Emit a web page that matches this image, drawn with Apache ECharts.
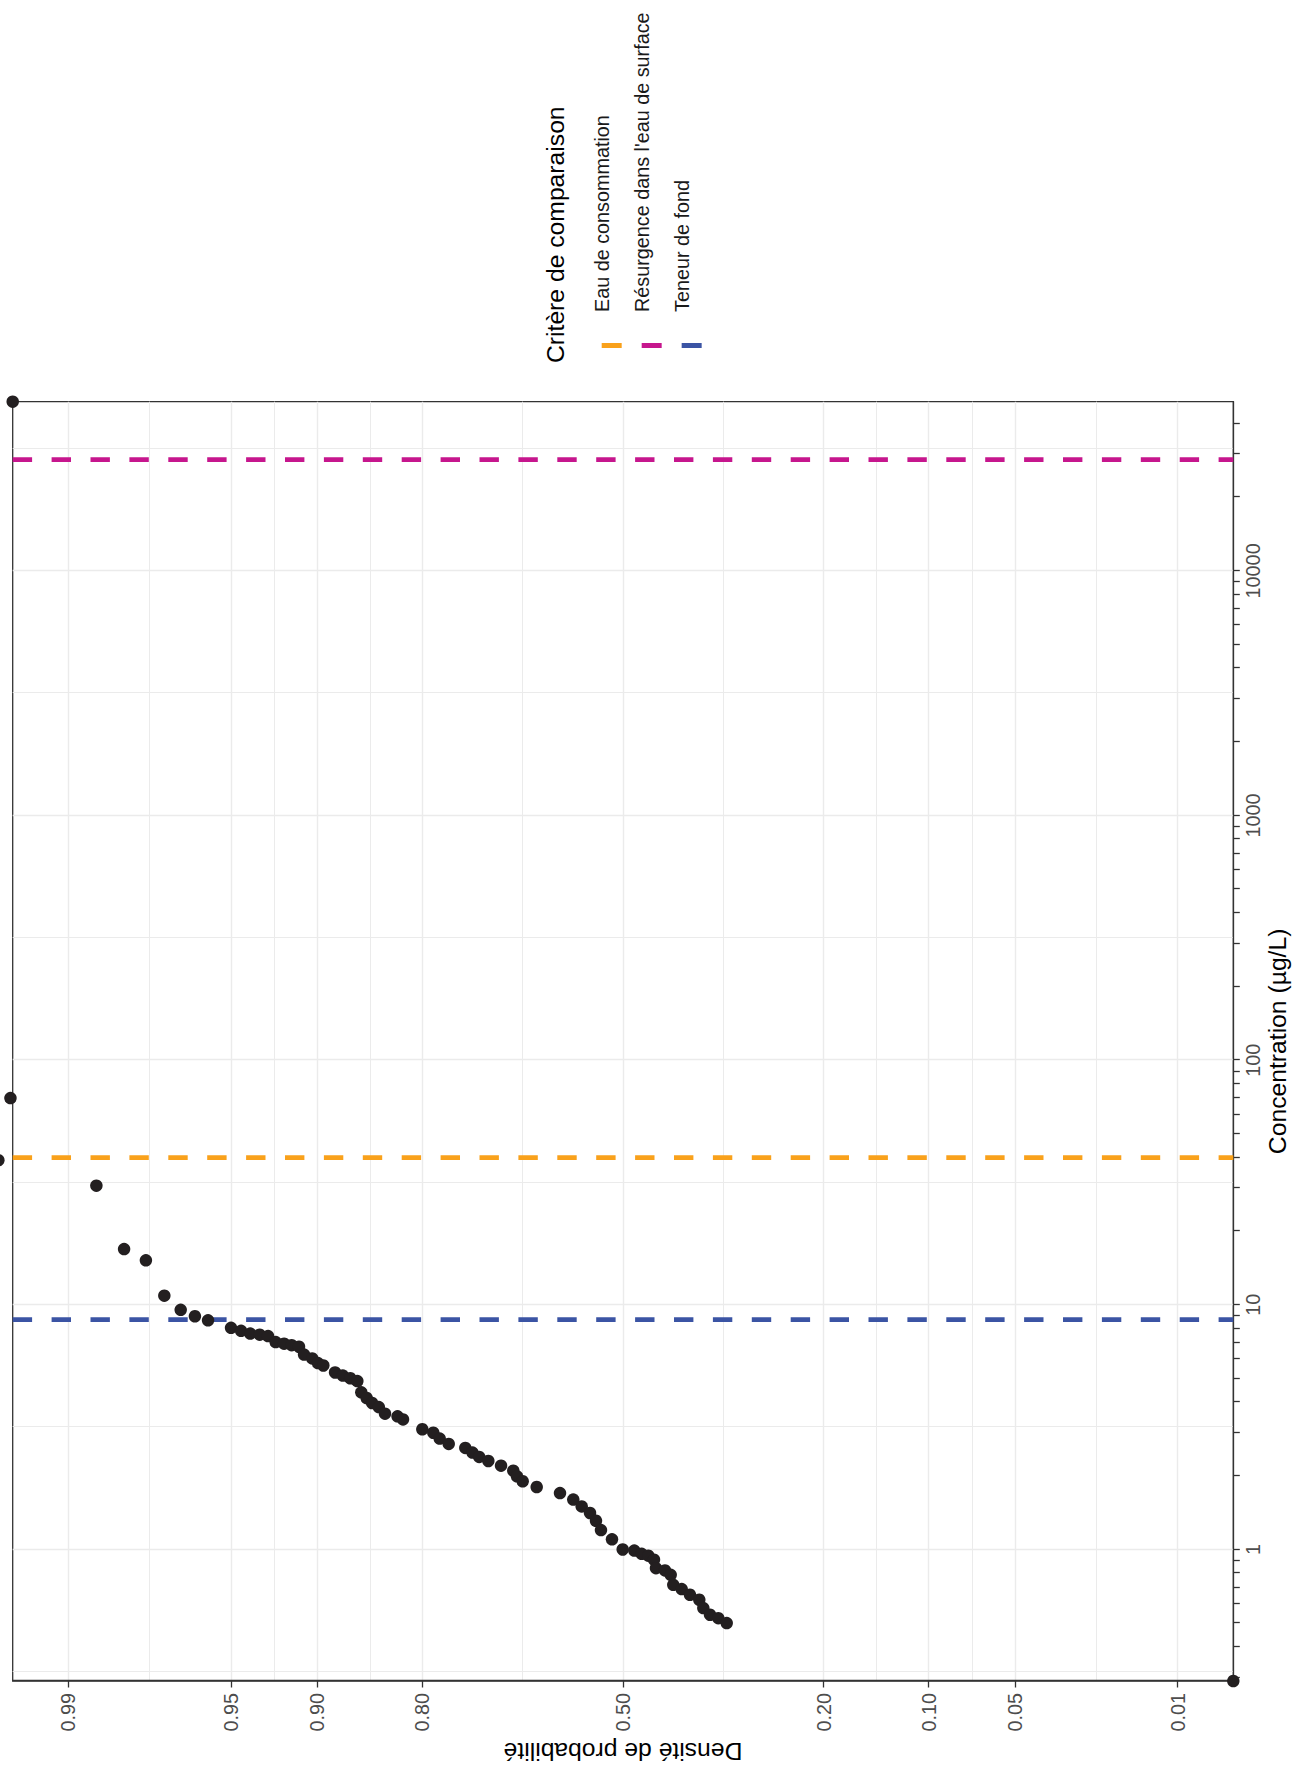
<!DOCTYPE html>
<html><head><meta charset="utf-8">
<script src="https://cdn.jsdelivr.net/npm/echarts@6/dist/echarts.min.js"></script>
<style>
html,body{margin:0;padding:0;background:#fff;overflow:hidden;width:1296px;height:1775px;}
#chart{position:absolute;left:0;top:0;width:1775px;height:1296px;transform-origin:0 0;transform:translate(0,1775px) rotate(-90deg);}
</style></head>
<body><div id="chart"></div>
<script>
// ---- data ----
const probabilites = [0.9864,0.9818,0.9773,0.9728,0.9682,0.9637,0.9591,0.9499,0.9454,0.9410,
  0.9362,0.9317,0.9274,0.9224,0.9177,0.9129,0.9095,0.9038,0.8996,0.8956,
  0.8864,0.8800,0.8736,0.8674,0.8638,0.8588,0.8537,0.8471,0.8409,0.8278,
  0.8219,0.8000,0.7869,0.7790,0.7676,0.7458,0.7361,0.7268,0.7139,0.6955,
  0.6773,0.6717,0.6630,0.6413,0.6042,0.5826,0.5688,0.5550,0.5451,0.5368,
  0.5184,0.5005,0.4811,0.4688,0.4577,0.4483,0.4450,0.4301,0.4207,0.4165,
  0.4028,0.3894,0.3745,0.3681,0.3576,0.3447,0.3318,
  0.99476,0.00524,0.9949,0.9956];
const concentrations = [30.7,16.9,15.2,10.9,9.54,8.98,8.64,8.05,7.83,7.63,
  7.55,7.45,7.04,6.94,6.84,6.74,6.26,6.04,5.78,5.65,
  5.29,5.14,5.01,4.88,4.39,4.16,3.97,3.82,3.59,3.50,
  3.40,3.10,3.00,2.84,2.70,2.60,2.49,2.39,2.30,2.20,
  2.10,1.99,1.90,1.80,1.70,1.60,1.50,1.41,1.31,1.20,
  1.10,1.00,0.99,0.96,0.943,0.908,0.839,0.821,0.788,0.717,
  0.689,0.653,0.623,0.576,0.541,0.524,0.500,
  49150,0.29,70,39];
const criteres = ['Eau de consommation', "Résurgence dans l'eau de surface", 'Teneur de fond'];
const critereValeurs = [40, 28500, 8.7];
const critereCouleurs = ['#F9A11B', '#C6168D', '#3B54A4'];
const probTicks = [0.01, 0.05, 0.10, 0.20, 0.50, 0.80, 0.90, 0.95, 0.99];
const probLabels = ['0.01', '0.05', '0.10', '0.20', '0.50', '0.80', '0.90', '0.95', '0.99'];
const concTicks = [1, 10, 100, 1000, 10000];
const concLabels = ['1', '10', '100', '1000', '10000'];
const P_MIN = 0.00524, P_MAX = 0.99476;
const C_MIN = 0.29, C_MAX = 49150;

// ---- normal quantile (probability scale transform) ----
function qnorm(p){
  const a=[-3.969683028665376e+01,2.209460984245205e+02,-2.759285104469687e+02,1.383577518672690e+02,-3.066479806614716e+01,2.506628277459239e+00];
  const b=[-5.447609879822406e+01,1.615858368580409e+02,-1.556989798598866e+02,6.680131188771972e+01,-1.328068155288572e+01];
  const c=[-7.784894002430293e-03,-3.223964580411365e-01,-2.400758277161838e+00,-2.549732539343734e+00,4.374664141464968e+00,2.938163982698783e+00];
  const d=[7.784695709041462e-03,3.224671290700398e-01,2.445134137142996e+00,3.754408661907416e+00];
  const pl=0.02425, ph=1-pl; let q,r;
  if(p<pl){q=Math.sqrt(-2*Math.log(p));return (((((c[0]*q+c[1])*q+c[2])*q+c[3])*q+c[4])*q+c[5])/((((d[0]*q+d[1])*q+d[2])*q+d[3])*q+1);}
  if(p<=ph){q=p-0.5;r=q*q;return (((((a[0]*r+a[1])*r+a[2])*r+a[3])*r+a[4])*r+a[5])*q/(((((b[0]*r+b[1])*r+b[2])*r+b[3])*r+b[4])*r+1);}
  q=Math.sqrt(-2*Math.log(1-p));return -(((((c[0]*q+c[1])*q+c[2])*q+c[3])*q+c[4])*q+c[5])/((((d[0]*q+d[1])*q+d[2])*q+d[3])*q+1);
}
const Z_MIN = qnorm(P_MIN), Z_MAX = qnorm(P_MAX);
const probZ = probTicks.map(qnorm);
const probMinorZ = [];
for (let i = 0; i < probZ.length - 1; i++) probMinorZ.push((probZ[i] + probZ[i+1]) / 2);
const logMinorTicks = [];
for (let e = -1; e <= 4; e++) for (let m = 1; m <= 9; m++) { const v = m * Math.pow(10, e); if (v >= C_MIN && v <= C_MAX) logMinorTicks.push(v); }
const logMidGrid = [];
for (let e = -1; e <= 4; e++) { const v = Math.pow(10, e + 0.5); if (v >= C_MIN && v <= C_MAX) logMidGrid.push(v); }

const FONT = 'Liberation Sans, Arial, Helvetica, sans-serif';
const AX = '#333333';
const GRIDC = '#EBEBEB';

const chart = echarts.init(document.getElementById('chart'), null, {renderer: 'svg', width: 1775, height: 1296});

const pts = concentrations.map((c, i) => [c, qnorm(probabilites[i])]);

const series = [];
criteres.forEach((nm, i) => {
  series.push({
    name: nm, type: 'line', xAxisIndex: 0, yAxisIndex: 0,
    data: [[critereValeurs[i], Z_MAX], [critereValeurs[i], Z_MIN]],
    symbol: 'none', silent: true, z: 3,
    color: critereCouleurs[i],
    lineStyle: {color: critereCouleurs[i], width: 4.7, type: [19.4, 19.5], cap: 'butt'},
    itemStyle: {color: critereCouleurs[i]}
  });
});
series.push({
  name: 'obs', type: 'scatter', xAxisIndex: 0, yAxisIndex: 0, data: pts,
  symbolSize: 12.5, clip: false, z: 5,
  itemStyle: {color: '#231F20', opacity: 1}
});

const hidden = {show: false};
const option = {
  backgroundColor: '#ffffff',
  animation: false,
  textStyle: {fontFamily: FONT},
  grid: {left: 94, right: 401.7, top: 12.7, bottom: 62.7, containLabel: false, outerBoundsMode: 'none',
    show: true, borderColor: AX, borderWidth: 1.3, backgroundColor: 'transparent'},
  xAxis: [
    { type: 'log', logBase: 10, min: C_MIN, max: C_MAX, position: 'bottom',
      name: 'Concentration (µg/L)', nameLocation: 'middle', nameGap: 32, nameMoveOverlap: false,
      nameTextStyle: {fontSize: 24.7, color: '#000', fontFamily: FONT},
      axisLine: {show: true, onZero: false, lineStyle: {color: AX, width: 1.3}},
      axisTick: {show: false, customValues: concTicks},
      axisLabel: {show: true, customValues: concTicks, margin: 10, fontSize: 19.8, color: '#4D4D4D', fontFamily: FONT,
        formatter: v => { let k = 0, best = 1e9; concTicks.forEach((t, j) => { const dd = Math.abs(Math.log10(t) - Math.log10(v)); if (dd < best) { best = dd; k = j; } }); return concLabels[k]; }},
      splitLine: {show: true, lineStyle: {color: GRIDC, width: 1.4}},
      minorTick: hidden, minorSplitLine: hidden, z: 2 },
    { type: 'log', logBase: 10, min: C_MIN, max: C_MAX, position: 'bottom',
      axisLine: {show: false, onZero: false}, axisLabel: {show: false},
      axisTick: {show: true, customValues: logMinorTicks, length: 6.5, lineStyle: {color: AX, width: 1.3}},
      splitLine: hidden, z: 2 },
    { type: 'log', logBase: 10, min: C_MIN, max: C_MAX, position: 'bottom',
      axisLine: {show: false, onZero: false}, axisLabel: {show: false},
      axisTick: {show: false, customValues: logMidGrid},
      splitLine: {show: true, lineStyle: {color: GRIDC, width: 1.0}}, z: 1 }
  ],
  yAxis: [
    { type: 'value', min: Z_MIN, max: Z_MAX, position: 'left',
      name: 'Densité de probabilité', nameLocation: 'middle', nameGap: 58, nameRotate: 90, nameMoveOverlap: false,
      nameTextStyle: {fontSize: 24.7, color: '#000', fontFamily: FONT},
      axisLine: {show: true, onZero: false, lineStyle: {color: AX, width: 1.3}},
      axisTick: {show: true, customValues: probZ, length: 6.5, lineStyle: {color: AX, width: 1.3}},
      axisLabel: {show: true, customValues: probZ, margin: 12, fontSize: 19.8, color: '#4D4D4D', fontFamily: FONT,
        formatter: v => { let k = 0, best = 1e9; probZ.forEach((t, j) => { const dd = Math.abs(t - v); if (dd < best) { best = dd; k = j; } }); return probLabels[k]; }},
      splitLine: {show: true, lineStyle: {color: GRIDC, width: 1.4}},
      minorTick: hidden, minorSplitLine: hidden, z: 2 },
    { type: 'value', min: Z_MIN, max: Z_MAX, position: 'left',
      axisLine: {show: false, onZero: false}, axisLabel: {show: false},
      axisTick: {show: false, customValues: probMinorZ},
      splitLine: {show: true, lineStyle: {color: GRIDC, width: 1.0}}, z: 1 }
  ],
  legend: {
    data: criteres, orient: 'vertical', left: 1427, top: 581.7, padding: 0, itemGap: 0,
    itemWidth: 31, itemHeight: 40,
    icon: 'path://M0,0L0.01,0M0,20L5,20L5,40L0,40ZM31,0L31.01,0',
    itemStyle: {borderWidth: 0},
    textStyle: {fontSize: 19.8, color: '#1A1A1A', fontFamily: FONT},
    selectedMode: false
  },
  graphic: [{
    type: 'text', left: 1412, top: 543,
    style: {text: 'Critère de comparaison', fontSize: 24.7, fill: '#000', fontFamily: FONT}
  }],
  series: series
};
chart.setOption(option);
</script>
</body></html>
